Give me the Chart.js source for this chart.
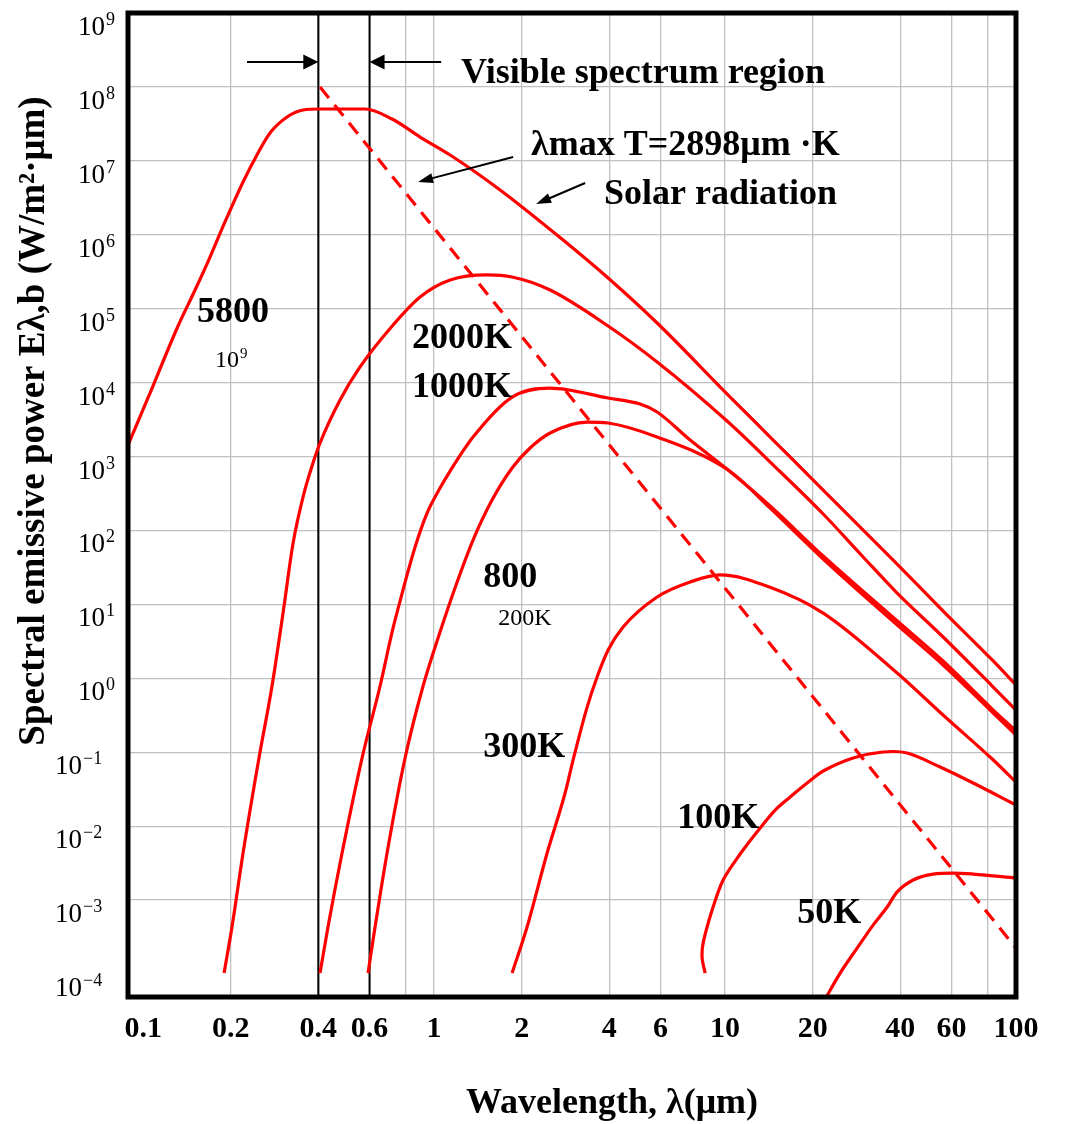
<!DOCTYPE html>
<html>
<head>
<meta charset="utf-8">
<script src="https://cdn.jsdelivr.net/npm/chart.js@4.4.1/dist/chart.umd.min.js"></script>
<style>
  html, body { margin: 0; padding: 0; background: #ffffff; }
  canvas { display: block; }
</style>
</head>
<body>
<canvas id="c" width="1067" height="1124"></canvas>
<script>
// ---------------- data (wavelength in μm, emissive power in W/(m²·μm)) ----------------
const xTickValues = [0.1, 0.2, 0.4, 0.6, 0.8, 1, 2, 4, 6, 10, 20, 40, 60, 80, 100];
const xTickLabels = ['0.1', '0.2', '0.4', '0.6', '', '1', '2', '4', '6', '10', '20', '40', '60', '', '100'];
const yExponents = [9, 8, 7, 6, 5, 4, 3, 2, 1, 0, -1, -2, -3, -4];

const X_MIN = 0.0887, X_MAX = 100;
const Y_MIN = Math.pow(10, -4.311), Y_MAX = 1e9;

const wl5800K = [0.0887, 0.1039, 0.1318, 0.1508, 0.1698, 0.1911, 0.2205, 0.2461, 0.2729, 0.3123, 0.3544, 0.4055, 0.579, 0.7171, 0.895, 1.135, 1.686, 2.776, 3.964, 5.842, 10.25, 14.29, 21.74, 37.83, 56.63, 82.83, 100];
const e5800K  = [1432, 6194, 5.83e4, 1.79e5, 5.0e5, 1.49e6, 5.18e6, 1.2e7, 2.38e7, 3.92e7, 4.87e7, 5.03e7, 5.03e7, 3.68e7, 2.1e7, 1.2e7, 4.04e6, 8.49e5, 2.6e5, 6.4e4, 6.79e3, 1836, 352, 39.8, 7.88, 1.77, 0.811];

const wl2000K = [0.1897, 0.202, 0.2205, 0.2501, 0.2773, 0.3026, 0.3276, 0.3544, 0.3806, 0.4055, 0.4751, 0.5566, 0.7228, 0.895, 1.135, 1.521, 1.854, 2.504, 3.964, 5.842, 10.25, 14.29, 21.74, 29.83, 38.73, 56.63, 82.83, 100];
const e2000K  = [1.03e-4, 4.32e-4, 4.33e-3, 0.0835, 0.787, 7.64, 67.6, 283, 745, 1524, 5.82e3, 1.63e4, 6.01e4, 1.44e5, 2.44e5, 2.86e5, 2.68e5, 1.79e5, 5.83e4, 1.9e4, 2.93e3, 843, 167, 43.8, 14.7, 3.51, 0.787, 0.372];

const wl1000K = [0.4055, 0.4318, 0.4827, 0.5654, 0.6521, 0.7171, 0.7637, 0.8603, 0.9458, 1.048, 1.135, 1.361, 1.854, 2.504, 3.964, 5.107, 5.842, 7.586, 10.25, 14.29, 21.74, 38.73, 56.63, 82.83, 100];
const e1000K  = [1.03e-4, 4.32e-4, 4.33e-3, 0.0835, 0.787, 4.23, 11.1, 59.7, 172, 375, 637, 1836, 6.38e3, 8.45e3, 6.19e3, 5.13e3, 4.0e3, 1.67e3, 657, 214, 45.1, 6.14, 1.66, 0.384, 0.194];

const wl800K = [0.5929, 0.6267, 0.6893, 0.7947, 0.9165, 1.048, 1.2, 1.361, 1.582, 1.854, 2.137, 2.504, 3.357, 3.964, 5.842, 10.25, 14.29, 21.74, 38.73, 56.63, 82.83, 100];
const e800K  = [1.03e-4, 4.32e-4, 4.33e-3, 0.0835, 0.787, 4.23, 20.1, 74.3, 258, 700, 1303, 2.08e3, 2.93e3, 2.84e3, 1836, 657, 201, 41.1, 5.42, 1.47, 0.35, 0.171];

const wl300K = [1.854, 2.087, 2.446, 2.82, 3.004, 3.357, 3.633, 3.964, 4.463, 5.842, 7.586, 9.618, 14.21, 21.74, 39.04, 56.63, 82.83, 100];
const e300K  = [1.03e-4, 4.32e-4, 4.33e-3, 0.0281, 0.0784, 0.408, 1.04, 2.41, 4.94, 12.6, 20.1, 25.0, 17.2, 7.64, 1.18, 0.309, 0.0809, 0.0395];

const wl100K = [8.542, 8.341, 8.408, 9.028, 9.849, 11.27, 13.2, 14.87, 16.74, 19.15, 21.74, 27.56, 34.95, 42.26, 54.87, 71.26, 100];
const e100K  = [1.03e-4, 1.64e-4, 2.62e-4, 7.33e-4, 1.87e-3, 4.2e-3, 9.44e-3, 0.0165, 0.0248, 0.0383, 0.0557, 0.0835, 0.1007, 0.0975, 0.0631, 0.0383, 0.0193];

const wl50K = [22.08, 24.87, 28.44, 32.28, 36.07, 39.04, 44.31, 51.91, 60.81, 71.26, 100];
const e50K  = [4.6e-5, 1.03e-4, 2.24e-4, 4.59e-4, 8.05e-4, 1.29e-3, 1.87e-3, 2.25e-3, 2.32e-3, 2.25e-3, 1.99e-3];

// Wien displacement line  λmax·T = 2898 μm·K
const wlWien = [0.4055, 100];
const eWien  = [9.97e7, 2.24e-4];

// visible spectrum boundaries (μm)
const visibleBounds = [0.4, 0.6];

// ---------------- annotations (anchored in data coordinates) ----------------
const notes = [
  { t: 'Visible spectrum region', x: 1.238, y: 1.13e8 },
  { t: 'λmax T=2898μm ·K', x: 2.155, y: 1.2e7 },
  { t: 'Solar radiation', x: 3.839, y: 2.61e6 },
  { t: '5800', x: 0.1532, y: 6.61e4 },
  { t: '2000K', x: 0.8401, y: 2.94e4 },
  { t: '1000K', x: 0.8401, y: 6.38e3 },
  { t: '800', x: 1.474, y: 17.2 },
  { t: '300K', x: 1.474, y: 0.0861 },
  { t: '100K', x: 6.844, y: 9.44e-3 },
  { t: '50K', x: 17.69, y: 4.89e-4 }
];
const smallNotes = [
  { t: '10', sup: '9', x: 0.1767, y: 1.63e4 },
  { t: '200K', sup: '', x: 1.66, y: 5.26 }
];
const arrows = [
  { from: [0.2275, 2.17e8], to: [0.4, 2.17e8], big: true },
  { from: [1.057, 2.17e8], to: [0.6, 2.17e8], big: true },
  { from: [1.869, 1.13e7], to: [0.881, 5.18e6], big: false },
  { from: [3.304, 5.01e6], to: [2.242, 2.61e6], big: false }
];

// ---------------- chart ----------------
const pts = (xs, ys) => xs.map((x, i) => ({ x: x, y: ys[i] }));
const RED = '#ff0000';
const SERIF = '"Liberation Serif", "Times New Roman", serif';

function curve(xs, ys, smoothMode) {
  const d = { data: pts(xs, ys), borderColor: RED, borderWidth: 3.2, fill: false, pointRadius: 0 };
  if (smoothMode === 'bezier') { d.tension = 0.3; } else { d.cubicInterpolationMode = 'monotone'; }
  return d;
}

const datasets = [
  curve(wl5800K, e5800K),
  curve(wl2000K, e2000K),
  curve(wl1000K, e1000K),
  curve(wl800K, e800K),
  curve(wl300K, e300K),
  curve(wl100K, e100K, 'bezier'),
  curve(wl50K, e50K),
  { data: pts(wlWien, eWien), borderColor: RED, borderWidth: 3.2, borderDash: [14, 9], tension: 0, pointRadius: 0, fill: false }
];
visibleBounds.forEach(v => {
  datasets.push({ data: [{ x: v, y: Y_MAX }, { x: v, y: Y_MIN }], borderColor: '#000', borderWidth: 2, tension: 0, pointRadius: 0, fill: false });
});

function drawArrow(ctx, x1, y1, x2, y2, len, half, lw) {
  const ang = Math.atan2(y2 - y1, x2 - x1);
  ctx.save();
  ctx.strokeStyle = '#000'; ctx.fillStyle = '#000'; ctx.lineWidth = lw;
  ctx.beginPath();
  ctx.moveTo(x1, y1);
  ctx.lineTo(x2 - Math.cos(ang) * len * 0.8, y2 - Math.sin(ang) * len * 0.8);
  ctx.stroke();
  ctx.beginPath();
  ctx.moveTo(x2, y2);
  ctx.lineTo(x2 - Math.cos(ang) * len + Math.sin(ang) * half, y2 - Math.sin(ang) * len - Math.cos(ang) * half);
  ctx.lineTo(x2 - Math.cos(ang) * len - Math.sin(ang) * half, y2 - Math.sin(ang) * len + Math.cos(ang) * half);
  ctx.closePath();
  ctx.fill();
  ctx.restore();
}

const deco = {
  id: 'deco',
  afterDraw(chart) {
    const ctx = chart.ctx, xs = chart.scales.x, ys = chart.scales.y, a = chart.chartArea;
    const px = v => xs.getPixelForValue(v), py = v => ys.getPixelForValue(v);

    // frame
    ctx.save();
    ctx.strokeStyle = '#000'; ctx.lineWidth = 5;
    ctx.strokeRect(a.left, a.top, a.right - a.left, a.bottom - a.top);
    ctx.restore();

    ctx.save();
    ctx.fillStyle = '#000';
    ctx.textBaseline = 'alphabetic';
    ctx.textAlign = 'left';

    // y tick labels 10^n
    yExponents.forEach(e => {
      const y = py(Math.pow(10, e));
      const x0 = e >= 0 ? 78 : 55;
      ctx.font = '27px ' + SERIF;
      ctx.fillText('10', x0, y + 22);
      const w = ctx.measureText('10').width;
      ctx.font = '18px ' + SERIF;
      ctx.fillText(e >= 0 ? String(e) : '\u2212' + String(-e), x0 + w + 1, y + 12);
    });

    // bold annotations
    ctx.font = 'bold 36px ' + SERIF;
    notes.forEach(n => ctx.fillText(n.t, px(n.x), py(n.y)));

    // small annotations
    smallNotes.forEach(n => {
      ctx.font = '24px ' + SERIF;
      const x0 = px(n.x), y0 = py(n.y);
      ctx.fillText(n.t, x0, y0);
      if (n.sup) {
        const w = ctx.measureText(n.t).width;
        ctx.font = '15px ' + SERIF;
        ctx.fillText(n.sup, x0 + w + 1, y0 - 9);
      }
    });

    // arrows
    arrows.forEach(ar => {
      const x1 = px(ar.from[0]), y1 = py(ar.from[1]), x2 = px(ar.to[0]), y2 = py(ar.to[1]);
      if (ar.big) drawArrow(ctx, x1, y1, x2, y2, 15, 7.5, 2);
      else drawArrow(ctx, x1, y1, x2, y2, 15, 5, 2);
    });

    // axis titles
    ctx.font = 'bold 36px ' + SERIF;
    ctx.textAlign = 'center';
    ctx.fillText('Wavelength, λ(μm)', 612, 1113);
    ctx.translate(44, 421);
    ctx.rotate(-Math.PI / 2);
    ctx.font = 'bold 37px ' + SERIF;
    ctx.fillText('Spectral emissive power Eλ,b (W/m²·μm)', 0, 0);
    ctx.restore();
  }
};

new Chart(document.getElementById('c'), {
  type: 'line',
  data: { datasets: datasets },
  options: {
    responsive: false,
    animation: false,
    devicePixelRatio: 1,
    layout: { padding: { top: 13, right: 51, left: 0, bottom: 0 } },
    plugins: { legend: { display: false }, tooltip: { enabled: false } },
    elements: { point: { radius: 0 } },
    scales: {
      x: {
        type: 'logarithmic', min: X_MIN, max: X_MAX,
        afterBuildTicks: s => { s.ticks = xTickValues.map(v => ({ value: v })); },
        afterFit: s => { s.height = 127; },
        ticks: {
          autoSkip: false, maxRotation: 0, minRotation: 0, color: '#000', padding: 14,
          font: { family: SERIF, size: 30, weight: 'bold' },
          callback: (v, i) => (xTickLabels[i] !== undefined ? xTickLabels[i] : '')
        },
        grid: {
          color: c => (c.tick && c.tick.value < 0.15) ? 'rgba(0,0,0,0)' : '#c0c0c0',
          lineWidth: 1.3, drawTicks: false
        },
        border: { display: false }
      },
      y: {
        type: 'logarithmic', min: Y_MIN, max: Y_MAX,
        afterBuildTicks: s => { s.ticks = yExponents.map(e => ({ value: Math.pow(10, e) })); },
        afterFit: s => { s.width = 128; },
        ticks: { display: false },
        grid: {
          color: c => (c.tick && c.tick.value < 2e-4) ? 'rgba(0,0,0,0)' : '#c0c0c0',
          lineWidth: 1.3, drawTicks: false
        },
        border: { display: false }
      }
    }
  },
  plugins: [deco]
});
</script>
</body>
</html>
